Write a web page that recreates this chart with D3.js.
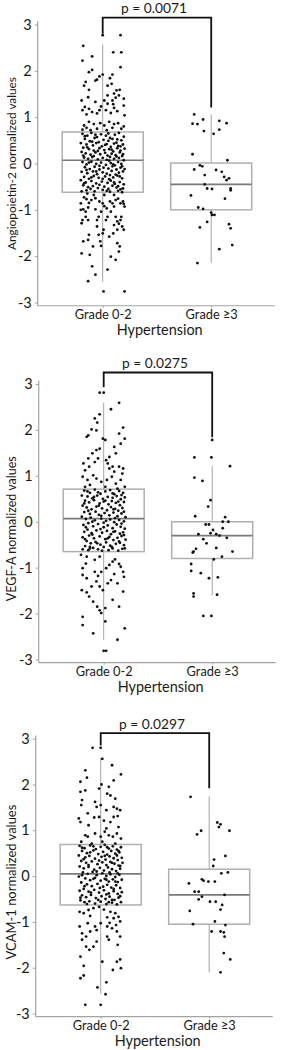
<!DOCTYPE html>
<html>
<head>
<style>
body{margin:0;background:#fff;}
text{font-family:Lato,"Open Sans",sans-serif;fill:#1a1a1a;}
</style>
<script src="https://d3js.org/d3.v7.min.js"></script>
</head>
<body>
<script>
const groups = ["Grade 0-2", "Grade \u22653"];
const yTicks = [-3, -2, -1, 0, 1, 2, 3];
const markers = ["Angiopoietin-2", "VEGF-A", "VCAM-1"];
const pValues = ["0.0071", "0.0275", "0.0297"];
const xTitle = "Hypertension";

// box stats per group: [whisker low, q1, median, q3, whisker high]
const angBox = [[-2.55, -0.62, 0.07, 0.68, 2.57], [-2.14, -1.0, -0.45, 0.01, 1.06]];
const vegfBox = [[-2.57, -0.65, 0.07, 0.71, 2.59], [-1.61, -0.8, -0.3, 0.0, 1.21]];
const vcamBox = [[-2.57, -0.63, 0.05, 0.69, 2.58], [-2.1, -1.05, -0.41, 0.15, 1.74]];

// significance bracket: [top, left leg end, right leg end]
const angBracket = [3.15, 2.8, 1.21];
const vegfBracket = [3.25, 2.93, 1.84];
const vcamBracket = [3.12, 2.85, 1.92];

// points: [jitter (share of box width), normalized value]
const angG1 = [
[0,2.77],[0.22,2.77],[-0.24,2.54],[0.23,2.4],[0.13,2.4],[-0.25,2.22],[-0.13,2.31],[0.22,2.08],[-0.17,1.97],[-0.13,2.02],[0,1.92],[0.12,1.92],[-0.23,1.68],[-0.21,1.76],[-0.17,1.59],[-0.09,1.79],[-0.07,1.81],[-0.04,1.88],[0.06,1.68],[0.09,1.84],[0.11,1.72],[0.17,1.58],[0.21,1.59],[-0.26,1.36],[-0.18,1.43],[-0.25,1.15],[-0.22,1.22],[-0.17,1.18],[-0.04,1.15],[-0.02,1.23],[0.02,1.36],[0.06,1.29],[0.12,1.36],[0.13,1.28],[0.14,1.2],[0.16,1.42],[0.26,1.4],[0.26,1.25],[0.27,1.04],[0.18,1.13],[0.1,1.09],[0.04,1.15],[-0.07,1.08],[-0.13,1.11],[-0.2,1.06],[-0.09,1.33],[0.06,1.47],[0.14,1.51],[0.2,1.47],
[-0.23,0.82],[-0.17,0.9],[-0.11,0.85],[-0.03,0.87],[0.02,0.82],[0.08,0.9],[0.14,0.85],[0.19,0.87],[0.23,0.75],[-0.25,0.73],[-0.15,0.72],[-0.07,0.75],[0.05,0.72],[0.12,0.77],[0.26,0.8],[-0.2,0.77],
[-0.25,0.64],[-0.19,0.6],[-0.14,0.66],[-0.07,0.57],[-0.02,0.63],[0.04,0.6],[0.09,0.55],[0.15,0.62],[0.2,0.66],[0.26,0.58],
[-0.22,0.53],[-0.16,0.48],[-0.1,0.55],[-0.05,0.46],[0.01,0.51],[0.07,0.49],[0.12,0.53],[0.17,0.45],[0.23,0.5],[-0.27,0.44],
[-0.2,0.41],[-0.12,0.39],[-0.08,0.44],[-0.01,0.37],[0.05,0.42],[0.1,0.36],[0.14,0.43],[0.19,0.38],[0.25,0.41],[-0.24,0.34],
[-0.17,0.31],[-0.11,0.28],[-0.04,0.33],[0.02,0.29],[0.08,0.31],[0.13,0.26],[0.18,0.33],[0.22,0.28],[0.27,0.32],[-0.26,0.25],
[-0.21,0.22],[-0.15,0.19],[-0.09,0.24],[-0.03,0.2],[0.03,0.23],[0.06,0.17],[0.11,0.21],[0.16,0.18],[0.21,0.24],[0.24,0.16],
[-0.23,0.13],[-0.18,0.1],[-0.13,0.14],[-0.06,0.09],[0,0.12],[0.05,0.08],[0.09,0.14],[0.14,0.1],[0.2,0.12],[0.26,0.07],
[-0.25,0.03],[-0.2,-0.02],[-0.14,0.04],[-0.08,-0.01],[-0.02,0.02],[0.04,-0.03],[0.1,0.01],[0.15,-0.04],[0.19,0.03],[0.23,-0.01],
[-0.22,-0.08],[-0.16,-0.12],[-0.1,-0.07],[-0.04,-0.13],[0.01,-0.09],[0.07,-0.11],[0.12,-0.06],[0.17,-0.13],[0.22,-0.09],[0.27,-0.12],
[-0.26,-0.18],[-0.19,-0.21],[-0.12,-0.17],[-0.07,-0.23],[0,-0.19],[0.05,-0.22],[0.11,-0.16],[0.16,-0.24],[0.2,-0.2],[0.25,-0.17],
[-0.23,-0.29],[-0.17,-0.33],[-0.11,-0.27],[-0.05,-0.31],[0.03,-0.28],[0.08,-0.34],[0.13,-0.3],[0.18,-0.26],[0.24,-0.32],[-0.27,-0.36],
[-0.21,-0.41],[-0.14,-0.38],[-0.08,-0.43],[-0.01,-0.39],[0.06,-0.42],[0.1,-0.37],[0.15,-0.44],[0.21,-0.4],[0.26,-0.45],[-0.24,-0.47],
[-0.18,-0.51],[-0.12,-0.49],[-0.06,-0.53],[0.02,-0.5],[0.07,-0.55],[0.12,-0.48],[0.17,-0.52],[0.22,-0.56],[-0.2,-0.58],[-0.1,-0.6],
[0,-0.57],[0.09,-0.61],[0.19,-0.59],[0.25,-0.54],[-0.26,-0.6],
[-0.22,0.59],[-0.09,0.62],[0.07,0.65],[0.18,0.52],[-0.13,0.47],[0.03,0.4],[0.22,0.37],[-0.19,0.35],[-0.06,0.27],[0.11,0.3],[0.25,0.2],[-0.24,0.17],[-0.11,0.16],[0.08,0.06],[0.17,0.15],[-0.17,0.02],[-0.04,-0.05],[0.13,-0.02],[0.24,-0.06],[-0.2,-0.14],[-0.08,-0.17],[0.09,-0.25],[0.21,-0.28],[-0.14,-0.3],[0,-0.33],[0.14,-0.41],[-0.23,-0.43],[-0.04,-0.46],[0.19,-0.49],[-0.15,-0.55],[0.05,-0.59],[0.24,-0.62],
[-0.24,-0.99],[-0.18,-0.95],[-0.27,-1.0],[-0.25,-1.22],[-0.26,-1.29],[-0.18,-1.22],[-0.21,-1.15],[-0.24,-1.68],[-0.18,-1.65],[-0.17,-1.54],[-0.26,-1.94],[-0.16,-1.97],[-0.13,-2.22],[-0.18,-2.54],[-0.09,-2.4],[0.01,-2.76],[0.27,-2.76],[0.06,-2.29],[0.1,-2.01],[0.16,-2.08],[0.2,-1.9],[0.21,-1.79],[-0.02,-1.78],[-0.03,-1.68],[-0.05,-1.54],[0,-1.51],[0.08,-1.58],[0.13,-1.51],[0.18,-1.43],[0.22,-1.22],[0.23,-1.15],[0.24,-1.36],[0.26,-1.43],[0.27,-0.93],[0.26,-0.87],[0.14,-0.93],[0.1,-1.04],[-0.02,-1.04],[-0.05,-1.15],[-0.07,-1.22],[0.04,-1.22],[0.06,-1.15],[0.16,-1.15],[0.18,-1.25],[0.2,-1.3],
[-0.23,-0.73],[-0.2,-0.77],[-0.17,-0.85],[-0.14,-0.79],[-0.09,-0.75],[-0.04,-0.82],[0,-0.86],[0.02,-0.92],[0.05,-0.97],[0.09,-0.82],[0.12,-0.86],[0.16,-0.79],[0.19,-0.76],[0.22,-0.86],[0.25,-0.82],[-0.27,-0.86],[-0.21,-1.04],[-0.09,-0.99],[-0.07,-1.36],[0.01,-1.43],[0.14,-1.33],[-0.12,-1.79],[0.18,-1.72],[-0.19,-0.65],[0.14,-0.68],[0.02,-0.68],[-0.11,-0.68]
];
const angG2 = [
[-0.21,1.06],[-0.1,0.95],[-0.23,0.86],[-0.17,0.85],[0.1,0.92],[0.19,0.87],[-0.09,0.7],[0.03,0.64],[0.1,0.73],[-0.23,0.2],[0.2,0.07],[-0.14,-0.04],[-0.11,-0.06],[-0.21,-0.13],[0.06,-0.14],[0.13,-0.18],[-0.08,-0.25],[0.22,-0.32],[0.19,-0.36],[0.16,-0.29],[-0.08,-0.45],[-0.05,-0.54],[0.01,-0.55],[0.24,-0.54],[0.24,-0.58],[0.17,-0.76],[-0.25,-0.69],[-0.16,-0.95],[-0.1,-0.98],[0,-1.06],[0.01,-1.11],[0.04,-1.11],[-0.05,-1.26],[-0.14,-1.38],[0.22,-1.31],[0.24,-1.4],[0.26,-1.76],[0.1,-1.85],[-0.17,-2.15]
];

const vegfG1 = [
[-0.05,2.81],[0,2.81],[0.09,2.45],[0.19,2.59],[-0.05,2.34],[-0.11,2.25],[-0.08,2.16],[-0.15,2.01],[-0.19,1.88],[-0.21,1.85],[-0.09,1.99],[0.19,1.92],[0.24,2.05],[0.26,1.81],[0.21,1.7],[-0.01,1.81],[0.02,1.78],[0.13,1.63],[0.15,1.49],[0.07,1.41],[0.11,1.2],[-0.05,1.59],[-0.09,1.56],[-0.14,1.49],[-0.19,1.38],[-0.25,1.27],[-0.23,1.12],[-0.18,1.2],[-0.11,1.3],[-0.07,1.38],[0.03,1.34],[0.05,1.27],[0.07,1.16],[0.13,1.09],[0.19,1.2],[0.23,1.05],[0.24,1.16],[-0.26,0.98],[-0.2,0.91],[-0.13,1.01],[-0.09,0.94],[-0.03,0.87],[0.04,0.91],[0.1,0.98],[0.15,0.83],[0.21,0.91],[-0.23,0.76],[-0.17,0.8],[0.02,0.76],[0.17,0.72],[0.26,0.76],
[-0.24,0.68],[-0.17,0.63],[-0.11,0.7],[-0.04,0.61],[0.02,0.66],[0.08,0.69],[0.13,0.6],[0.19,0.67],[0.24,0.63],[-0.27,0.57],
[-0.2,0.55],[-0.14,0.51],[-0.08,0.57],[-0.01,0.5],[0.05,0.54],[0.11,0.52],[0.16,0.56],[0.21,0.49],[0.26,0.53],[-0.23,0.46],
[-0.18,0.42],[-0.12,0.47],[-0.05,0.4],[0,0.44],[0.06,0.38],[0.1,0.45],[0.15,0.41],[0.2,0.36],[0.25,0.43],[-0.26,0.35],
[-0.21,0.31],[-0.15,0.27],[-0.09,0.33],[-0.02,0.29],[0.04,0.25],[0.09,0.32],[0.14,0.28],[0.18,0.24],[0.23,0.3],[-0.24,0.21],
[-0.17,0.17],[-0.1,0.22],[-0.06,0.15],[0.01,0.19],[0.07,0.14],[0.12,0.2],[0.17,0.12],[0.22,0.18],[0.27,0.1],[-0.27,0.11],
[-0.22,0.06],[-0.16,0.09],[-0.11,0.03],[-0.03,0.07],[0.03,0.02],[0.08,0.05],[0.13,-0.01],[0.19,0.04],[0.25,0.01],[-0.19,-0.03],
[-0.25,-0.07],[-0.13,-0.1],[-0.07,-0.05],[0,-0.12],[0.05,-0.08],[0.11,-0.14],[0.16,-0.06],[0.21,-0.11],[0.26,-0.15],[-0.2,-0.17],
[-0.24,-0.22],[-0.15,-0.25],[-0.09,-0.19],[-0.02,-0.24],[0.04,-0.2],[0.09,-0.27],[0.14,-0.21],[0.2,-0.26],[0.24,-0.23],[-0.18,-0.3],
[-0.26,-0.34],[-0.12,-0.36],[-0.05,-0.32],[0.02,-0.38],[0.07,-0.33],[0.12,-0.4],[0.17,-0.35],[0.22,-0.31],[0.27,-0.39],[-0.21,-0.42],
[-0.16,-0.47],[-0.1,-0.44],[-0.04,-0.5],[0.03,-0.45],[0.08,-0.52],[0.15,-0.48],[0.19,-0.43],[0.25,-0.51],[-0.23,-0.53],[-0.13,-0.57],
[-0.07,-0.6],[0,-0.55],[0.06,-0.62],[0.11,-0.58],[0.18,-0.63],[0.23,-0.59],[-0.19,-0.62],[-0.26,-0.6],
[-0.2,0.66],[-0.07,0.64],[0.11,0.62],[0.22,0.58],[-0.12,0.54],[0.02,0.46],[0.18,0.44],[-0.24,0.4],[-0.06,0.35],[0.12,0.27],[0.25,0.22],[-0.19,0.24],[-0.03,0.13],[0.14,0.08],[-0.14,0],[0,-0.02],[0.22,-0.04],[-0.22,-0.12],[-0.04,-0.16],[0.12,-0.22],[0.25,-0.29],[-0.14,-0.28],[0.05,-0.36],[-0.23,-0.38],[0.2,-0.46],[-0.08,-0.47],[0.1,-0.55],[-0.17,-0.55],[0.26,-0.58],[-0.02,-0.63],
[-0.28,-0.72],[-0.21,-0.76],[-0.22,-0.91],[-0.26,-1.01],[-0.26,-1.16],[-0.21,-1.23],[-0.27,-1.49],[-0.21,-1.54],[-0.18,-1.63],[-0.13,-1.74],[-0.08,-1.85],[-0.05,-1.93],[-0.03,-1.99],[0.02,-1.88],[-0.01,-1.49],[-0.05,-1.41],[-0.09,-1.3],[-0.07,-1.18],[-0.03,-1.09],[0.03,-1.01],[0.07,-0.94],[0.11,-0.87],[0.14,-0.82],[0.19,-0.92],[0.21,-0.98],[0.24,-1.09],[0.25,-1.2],[0.24,-1.52],[0.19,-1.85],[0.11,-1.7],[0.05,-1.34],[0.13,-1.14],[-0.26,-2.07],[-0.26,-2.25],[-0.13,-2.43],[0.02,-2.17],[0.17,-2.57],[0.26,-2.32],[0,-2.81],[0.03,-2.81],[-0.11,-1.09],[-0.15,-1.41],[0.09,-1.27],[0.17,-1.34],[-0.11,-0.83],[-0.05,-0.76],[-0.17,-0.58]
];
const vegfG2 = [
[0,1.78],[-0.22,1.4],[-0.01,1.4],[0.22,1.21],[-0.22,0.96],[-0.12,0.89],[-0.02,0.47],[-0.05,0.33],[-0.21,0.12],[0.16,0.1],[0.2,0],[0.13,0],[-0.08,-0.06],[-0.04,-0.06],
[0.13,-0.14],[0.01,-0.18],[-0.02,-0.25],[-0.17,-0.27],[0.05,-0.27],[0.09,-0.3],[0.18,-0.35],[-0.11,-0.38],[-0.07,-0.47],[0.05,-0.57],[-0.2,-0.59],[-0.23,-0.65],[-0.24,-0.67],[0.25,-0.65],[0.12,-0.76],[0.02,-0.82],[-0.26,-0.92],
[-0.26,-1.07],[-0.14,-1.12],[-0.04,-1.23],[0.07,-1.21],[-0.23,-1.56],[-0.23,-1.63],[0.06,-1.59],[-0.11,-2.05],[-0.01,-2.05]
];

const vcamG1 = [
[-0.1,2.8],[0,2.8],[0.02,2.56],[0.14,2.42],[0.25,2.22],[-0.19,2.31],[-0.17,2.15],[-0.25,2.06],[0.16,2.09],[0.01,2],[-0.19,1.87],[-0.25,1.84],[-0.02,1.91],[0.1,1.95],[0.08,1.8],[0.12,1.76],[0.18,1.69],[-0.23,1.66],[-0.24,1.55],[-0.16,1.37],[-0.07,1.62],[-0.05,1.51],[0,1.55],[0.07,1.44],[0.16,1.51],[0.2,1.47],[0.24,1.44],[-0.27,1.26],[-0.25,1.18],[-0.15,1.11],[-0.08,1.28],[-0.02,1.29],[0.04,1.21],[0.12,1.18],[0.16,1.29],[0.21,1.31],[0.22,1.07],[0.07,1.04],[-0.19,0.89],[-0.16,0.86],[-0.07,0.93],[0,0.86],[0.05,0.97],[0.1,0.89],[0.15,0.86],[0.2,0.93],[0.25,0.82],[-0.24,0.75],[-0.11,0.71],[0.02,0.75],[0.18,0.71],
[-0.26,0.66],[-0.2,0.61],[-0.13,0.67],[-0.06,0.59],[0,0.64],[0.05,0.68],[0.1,0.6],[0.15,0.65],[0.2,0.58],[0.25,0.63],
[-0.23,0.55],[-0.17,0.5],[-0.09,0.56],[-0.03,0.48],[0.03,0.53],[0.08,0.47],[0.13,0.55],[0.18,0.49],[0.23,0.52],[-0.27,0.45],
[-0.19,0.41],[-0.14,0.44],[-0.07,0.38],[0.01,0.42],[0.06,0.36],[0.11,0.43],[0.16,0.39],[0.21,0.35],[0.26,0.4],[-0.24,0.33],
[-0.18,0.29],[-0.11,0.32],[-0.04,0.26],[0.02,0.3],[0.07,0.24],[0.12,0.31],[0.17,0.27],[0.22,0.23],[0.27,0.29],[-0.26,0.21],
[-0.21,0.17],[-0.15,0.2],[-0.08,0.14],[-0.01,0.18],[0.04,0.12],[0.09,0.19],[0.14,0.15],[0.19,0.11],[0.24,0.16],[-0.22,0.08],
[-0.16,0.05],[-0.1,0.09],[-0.05,0.02],[0.02,0.06],[0.07,0],[0.12,0.04],[0.18,-0.02],[0.23,0.03],[-0.27,-0.01],[-0.19,-0.05],
[-0.13,-0.09],[-0.07,-0.04],[0,-0.1],[0.05,-0.06],[0.1,-0.12],[0.15,-0.07],[0.21,-0.13],[0.26,-0.08],[-0.24,-0.14],[-0.17,-0.18],
[-0.11,-0.22],[-0.04,-0.17],[0.03,-0.23],[0.08,-0.19],[0.13,-0.25],[0.19,-0.2],[0.24,-0.26],[-0.21,-0.28],[-0.26,-0.32],[-0.15,-0.34],
[-0.08,-0.3],[-0.02,-0.36],[0.04,-0.31],[0.1,-0.38],[0.16,-0.33],[0.21,-0.39],[0.26,-0.35],[-0.23,-0.42],[-0.18,-0.46],[-0.12,-0.41],
[-0.06,-0.48],[0.01,-0.44],[0.06,-0.5],[0.11,-0.45],[0.17,-0.52],[0.22,-0.47],[-0.25,-0.53],[-0.2,-0.57],[-0.14,-0.55],[-0.07,-0.6],
[0,-0.56],[0.07,-0.61],[0.14,-0.58],[0.2,-0.62],[0.25,-0.57],
[-0.23,0.62],[-0.09,0.65],[0.08,0.63],[0.22,0.55],[-0.13,0.52],[0.05,0.44],[0.2,0.45],[-0.21,0.37],[-0.02,0.34],[0.14,0.29],[0.24,0.22],[-0.15,0.24],[-0.05,0.1],[0.11,0.08],[0.21,0.06],[-0.23,0.02],[-0.09,-0.06],[0.07,-0.08],[0.18,-0.12],[-0.2,-0.22],[-0.01,-0.26],[0.16,-0.28],[-0.12,-0.36],[0.07,-0.4],[0.24,-0.44],[-0.25,-0.47],[-0.03,-0.52],[0.14,-0.52],[-0.17,-0.61],[0.1,-0.57],
[-0.26,-0.78],[-0.21,-0.81],[-0.15,-0.74],[-0.09,-0.7],[-0.02,-0.67],[0.04,-0.73],[0.12,-0.78],[0.18,-0.81],[0.22,-0.89],[0.24,-0.99],[0.16,-0.92],[0.08,-0.9],[-0.26,-1.1],[-0.23,-1.25],[-0.18,-1.32],[-0.13,-1.21],[-0.07,-1.1],[-0.05,-1.18],[0,-1.03],[0.08,-1.1],[0.14,-1.14],[0.2,-1.21],[0.24,-1.32],[0.21,-1.5],[0.1,-1.39],[0.08,-1.32],[-0.05,-1.43],[-0.09,-1.54],[-0.14,-1.61],[-0.18,-1.54],[-0.23,-1.39],[-0.25,-1.76],[-0.21,-1.96],[-0.25,-2.23],[-0.21,-2.17],[0.02,-1.87],[0.2,-1.87],[0.24,-1.82],[0.25,-2.01],[0.15,-2.05],[0.07,-2.32],[-0.04,-2.43],[0.06,-2.58],[-0.19,-2.81],[0,-2.81],[-0.16,-1.03],[-0.13,-0.87],[0.19,-1.07],[0.11,-1.02]
];
const vcamG2 = [
[-0.23,1.73],[0.1,1.17],[0.14,1.13],[0.12,1.07],[-0.1,0.99],[-0.15,0.91],[0.25,0.99],[0.2,0.44],[0.06,0.36],[0.05,0.22],[0.23,0.08],[0.15,0.06],[-0.09,-0.07],[-0.07,-0.1],[-0.01,-0.12],[0.07,-0.12],[-0.25,-0.16],
[-0.18,-0.34],[-0.13,-0.34],[-0.09,-0.45],[-0.13,-0.51],[0.01,-0.56],[0.08,-0.56],[0.16,-0.63],[0.19,-0.41],[0.14,-0.73],[-0.24,-0.76],[0.07,-0.99],[-0.2,-1.05],[0.2,-1.07],[0.03,-1.21],[0.14,-1.21],[0.18,-1.23],[0.19,-1.32],[0.18,-1.68],[0.26,-1.82],[0.14,-2.1]
];

const panels = [
    {label: markers[0], p: pValues[0], box: angBox, br: angBracket, pts: [angG1, angG2]},
    {label: markers[1], p: pValues[1], box: vegfBox, br: vegfBracket, pts: [vegfG1, vegfG2]},
    {label: markers[2], p: pValues[2], box: vcamBox, br: vcamBracket, pts: [vcamG1, vcamG2]}
];
// where each panel sits on the page
const layout = [
    {ax: 37.7, top: 24.5, bottom: 302.5, labShift: 0, labW: 173},
    {ax: 38.7, top: 384, bottom: 659.5, labShift: 7, labW: 145},
    {ax: 35.7, top: 738.7, bottom: 1013.5, labShift: 6, labW: 155}
];

const W = 281, H = 1050;
const boxW = 81;
const axisGray = "#a3a3a3";

function fit(sel, width) {
    const w = sel.node().getComputedTextLength();
    const fs = parseFloat(sel.attr("font-size"));
    sel.attr("font-size", (fs * width / w).toFixed(2));
}

function draw() {
    const svg = d3.select("body").append("svg")
        .attr("width", W)
        .attr("height", H);

    panels.forEach((pd, i) => {
        const L = layout[i];
        const g = svg.append("g").attr("transform", `translate(${L.ax},0)`);

        const y = d3.scaleLinear().domain([-3, 3]).range([L.bottom, L.top]);
        const x = d3.scalePoint().domain(groups).range([65, 173.5]);

        // axis lines
        g.append("line")
            .attr("x1", 0).attr("x2", 0)
            .attr("y1", y(3.07)).attr("y2", y(-3.07))
            .attr("stroke", axisGray).attr("stroke-width", 1.2);
        g.append("line")
            .attr("x1", 0).attr("x2", 237)
            .attr("y1", y(-3.07)).attr("y2", y(-3.07))
            .attr("stroke", axisGray).attr("stroke-width", 1.2);

        const yAxis = g.append("g")
            .call(d3.axisLeft(y).tickValues(yTicks).tickSize(3).tickPadding(3));
        yAxis.select(".domain").remove();
        yAxis.selectAll("line").attr("stroke", axisGray);
        yAxis.selectAll("text")
            .attr("font-size", 14.5)
            .attr("font-family", null)
            .attr("fill", "#1a1a1a")
            .text(d => d < 0 ? "-" + Math.abs(d) : d);

        const xAxis = g.append("g")
            .attr("transform", `translate(0,${y(-3.07)})`)
            .call(d3.axisBottom(x).tickSize(2).tickPadding(2));
        xAxis.select(".domain").remove();
        xAxis.selectAll("line").attr("stroke", axisGray);
        const xt = xAxis.selectAll("text")
            .attr("font-size", 13.5)
            .attr("font-family", null)
            .attr("fill", "#1a1a1a")
            .attr("dy", "0.75em");
        const first = xt.filter((d, k) => k === 0);
        fit(first, 57);
        xt.attr("font-size", first.attr("font-size"));

        const xl = g.append("text")
            .attr("x", 122)
            .attr("y", y(-3.07) + 23.5)
            .attr("text-anchor", "middle")
            .attr("dominant-baseline", "central")
            .attr("font-size", 15)
            .text(xTitle);
        fit(xl, 86);

        const yl = svg.append("text")
            .attr("transform", `translate(11,${y(0) + L.labShift}) rotate(-90)`)
            .attr("text-anchor", "middle")
            .attr("dominant-baseline", "central")
            .attr("font-size", 14)
            .text(pd.label + " normalized values");
        fit(yl, L.labW);

        // boxes, whiskers and jittered points
        groups.forEach((grp, k) => {
            const s = pd.box[k];
            const cx = x(grp);
            g.append("line")
                .attr("x1", cx).attr("x2", cx)
                .attr("y1", y(s[0])).attr("y2", y(s[1]))
                .attr("stroke", axisGray).attr("stroke-width", 1);
            g.append("line")
                .attr("x1", cx).attr("x2", cx)
                .attr("y1", y(s[3])).attr("y2", y(s[4]))
                .attr("stroke", axisGray).attr("stroke-width", 1);
            g.append("rect")
                .attr("x", cx - boxW / 2)
                .attr("y", y(s[3]))
                .attr("width", boxW)
                .attr("height", y(s[1]) - y(s[3]))
                .attr("fill", "none")
                .attr("stroke", "#b0b0b0")
                .attr("stroke-width", 1.5);
            g.append("line")
                .attr("x1", cx - boxW / 2).attr("x2", cx + boxW / 2)
                .attr("y1", y(s[2])).attr("y2", y(s[2]))
                .attr("stroke", "#7a7a7a").attr("stroke-width", 1.7);

            g.selectAll(null)
                .data(pd.pts[k])
                .enter()
                .append("circle")
                .attr("cx", d => cx + d[0] * boxW)
                .attr("cy", d => y(d[1]))
                .attr("r", 1.4)
                .attr("fill", "#111");
        });

        // bracket + p value
        const x1 = x(groups[0]), x2 = x(groups[1]);
        g.append("path")
            .attr("d", `M${x1},${y(pd.br[1])}V${y(pd.br[0])}H${x2}V${y(pd.br[2])}`)
            .attr("fill", "none")
            .attr("stroke", "#111")
            .attr("stroke-width", 1.8);
        const pt = g.append("text")
            .attr("x", (x1 + x2) / 2 - 3)
            .attr("y", y(pd.br[0]) - 10)
            .attr("text-anchor", "middle")
            .attr("dominant-baseline", "central")
            .attr("font-size", 15)
            .text("p = " + pd.p);
        fit(pt, 66);
    });
}

document.fonts.load("15px Lato").then(draw, draw);
</script>
</body>
</html>
